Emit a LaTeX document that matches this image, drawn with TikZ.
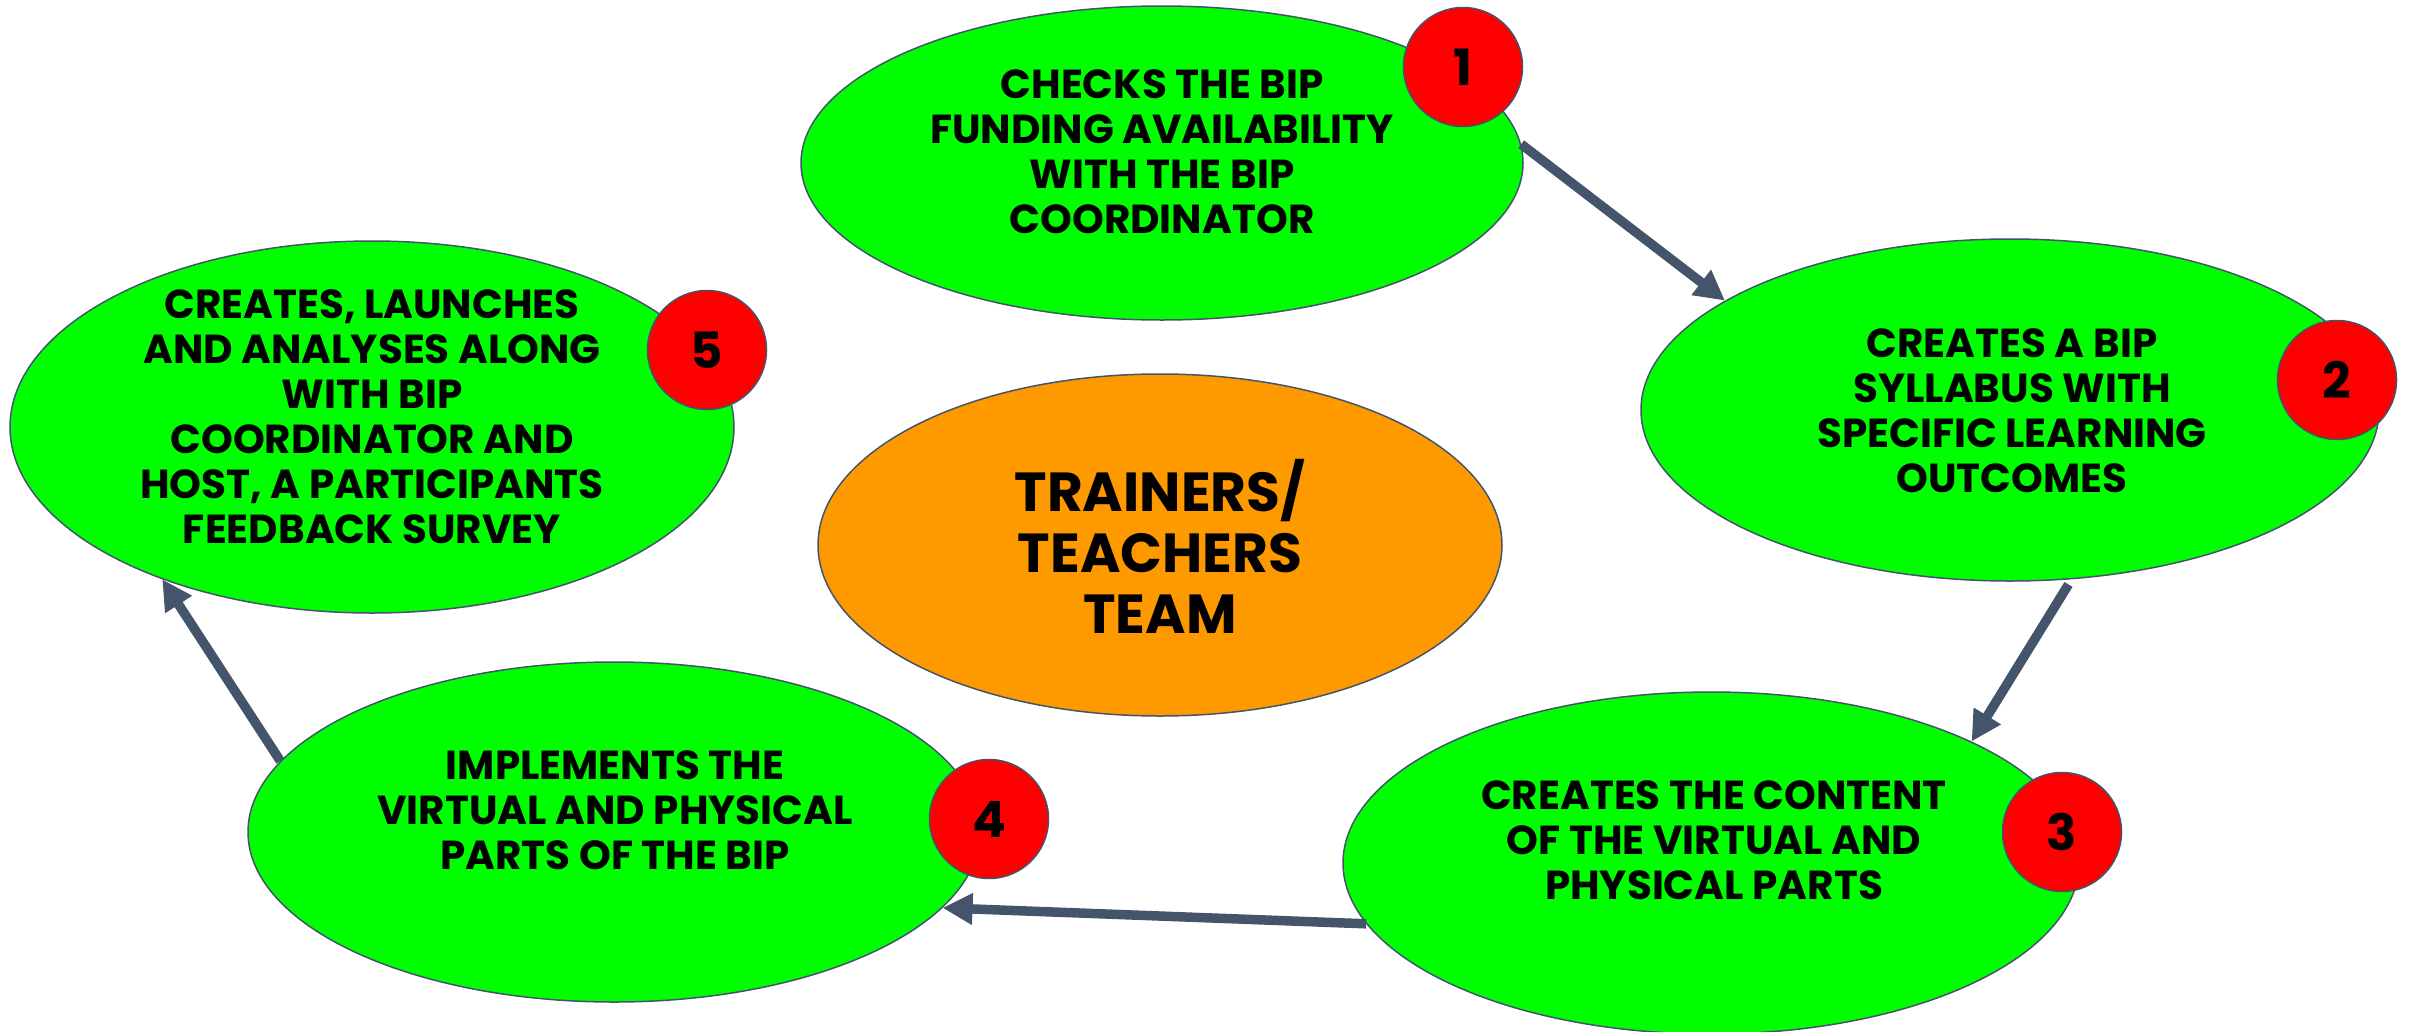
\documentclass[tikz,border=0pt]{standalone}
\usepackage{fontspec}
\setmainfont{Poppins}
\usetikzlibrary{arrows.meta,shapes.geometric}
\definecolor{edgec}{HTML}{44546A}
\definecolor{greenc}{HTML}{00FF00}
\definecolor{redc}{HTML}{FF0000}
\definecolor{orangec}{HTML}{FF9900}
\tikzset{
  stepell/.style={ellipse, draw=edgec, line width=1.5pt, fill=greenc, inner sep=0pt},
  hubell/.style={ellipse, draw=edgec, line width=1.5pt, fill=orangec, inner sep=0pt},
  numdot/.style={circle, draw=edgec, line width=1.5pt, fill=redc, minimum size=119pt, inner sep=0pt, font=\bfseries\fontsize{50}{52}\selectfont},
  steptext/.style={align=center, inner sep=0pt, font=\bfseries\fontsize{40.5}{45}\selectfont},
  hubtext/.style={align=center, inner sep=0pt, font=\bfseries\fontsize{55}{61}\selectfont},
  flow/.style={draw=edgec, line width=9.5pt, -{Triangle[length=30pt,width=30pt]}}
}
\begin{document}
\begin{tikzpicture}[x=1pt,y=-1pt]
\useasboundingbox (0,0) rectangle (2415,1031);
% ellipses
\node[stepell, minimum width=722pt, minimum height=314pt] (e1) at (1162,163) {};
\node[stepell, minimum width=738pt, minimum height=342pt] (e2) at (2010,410) {};
\node[stepell, minimum width=736pt, minimum height=342pt] (e3) at (1711,863) {};
\node[stepell, minimum width=732pt, minimum height=340pt] (e4) at (614,832) {};
\node[stepell, minimum width=724pt, minimum height=372pt] (e5) at (372,427) {};
\node[hubell, minimum width=684pt, minimum height=342pt] (e0) at (1160,545) {};
% texts
\node[steptext] (t1) at (1162,152) {CHECKS THE BIP\\FUNDING AVAILABILITY\\WITH THE BIP\\COORDINATOR};
\node[steptext] (t2) at (2012,411) {CREATES A BIP\\SYLLABUS WITH\\SPECIFIC LEARNING\\OUTCOMES};
\node[steptext] (t3) at (1714,840) {CREATES THE CONTENT\\OF THE VIRTUAL AND\\PHYSICAL PARTS};
\node[steptext] (t4) at (615,810) {IMPLEMENTS THE\\VIRTUAL AND PHYSICAL\\PARTS OF THE BIP};
\node[steptext] (t5) at (372,417) {CREATES, LAUNCHES\\AND ANALYSES ALONG\\WITH BIP\\COORDINATOR AND\\HOST, A PARTICIPANTS\\FEEDBACK SURVEY};
\node[hubtext] (t0) at (1160,546) {TRAINERS/\\TEACHERS\\TEAM};
% number badges
\node[numdot] (n1) at (1463,67) {1};
\node[numdot] (n2) at (2337,380) {2};
\node[numdot] (n3) at (2062,832) {3};
\node[numdot] (n4) at (989,819) {4};
\node[numdot] (n5) at (707,350) {5};
% arrows
\draw[flow] (e1.3.2) -- (e2.159.7);
\draw[flow, shorten <=6pt] (e2.-70.7) -- (e3.25);
\draw[flow] (e3.190) -- (e4.-13.3);
\draw[flow] (e4.168.8) -- (e5.-144.2);
\end{tikzpicture}
\end{document}
